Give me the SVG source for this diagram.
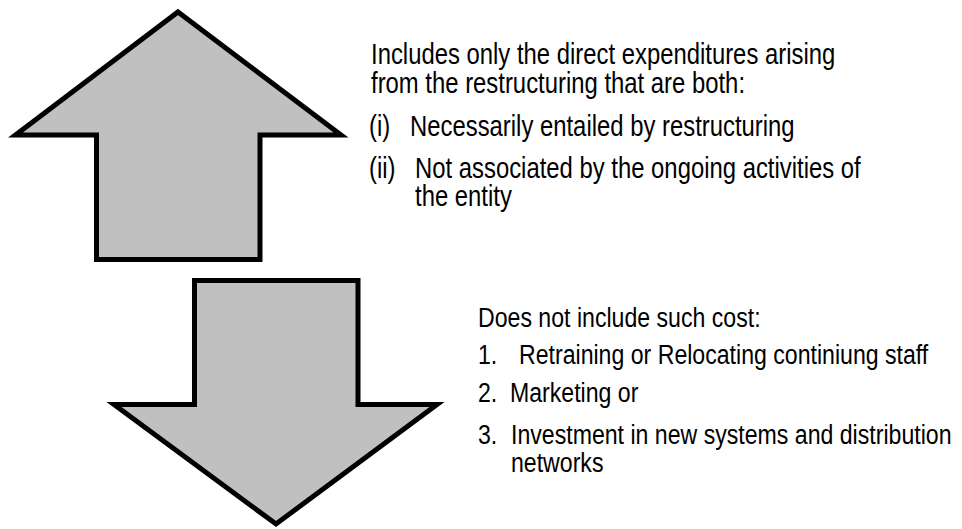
<svg xmlns="http://www.w3.org/2000/svg" width="962" height="529" viewBox="0 0 962 529">
<style>
.arrow{fill:#c0c0c0;stroke:#000;stroke-width:5;stroke-linejoin:miter;stroke-miterlimit:10}
.t{font-family:"Liberation Sans",Arial,sans-serif;fill:#000}
.top{font-size:29.1px}
.bot{font-size:28.2px}
</style>
<rect width="962" height="529" fill="#fff"/>
<g id="up-arrow">
<polygon class="arrow" points="178,12 341,135 260,135 260,259.5 96.5,259.5 96.5,135 15.5,135"/>
</g>
<g id="down-arrow">
<polygon class="arrow" points="194.5,280.5 358,280.5 358,404.5 437,404.5 276,524 114,404.5 194.5,404.5"/>
</g>
<g id="connectors"></g>
<g id="top-text" class="t top">
<text transform="matrix(0.82 0 0 1 371 64)">Includes only the direct expenditures arising</text>
<text transform="matrix(0.82 0 0 1 371 93)">from the restructuring that are both:</text>
<text transform="matrix(0.82 0 0 1 369 136)">(i)</text>
<text transform="matrix(0.82 0 0 1 410 136)">Necessarily entailed by restructuring</text>
<text transform="matrix(0.82 0 0 1 369 178)">(ii)</text>
<text transform="matrix(0.82 0 0 1 415 178)">Not associated by the ongoing activities of</text>
<text transform="matrix(0.82 0 0 1 415 206)">the entity</text>
</g>
<g id="bottom-text" class="t bot">
<text transform="matrix(0.82 0 0 1 478 327)">Does not include such cost:</text>
<text transform="matrix(0.82 0 0 1 478 364)">1.</text>
<text transform="matrix(0.82 0 0 1 519 364)">Retraining or Relocating continiung staff</text>
<text transform="matrix(0.82 0 0 1 478 402)">2.</text>
<text transform="matrix(0.82 0 0 1 510 402)">Marketing or</text>
<text transform="matrix(0.82 0 0 1 478 444)">3.</text>
<text transform="matrix(0.82 0 0 1 511 444)">Investment in new systems and distribution</text>
<text transform="matrix(0.82 0 0 1 511 472)">networks</text>
</g>
</svg>
